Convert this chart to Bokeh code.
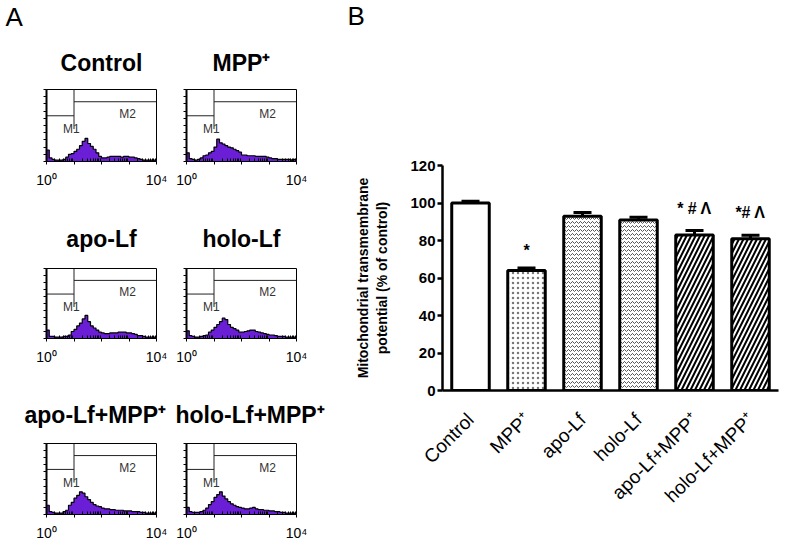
import math
from bokeh.plotting import figure
from bokeh.layouts import row, column
from bokeh.models import (Title, FixedTicker, Range1d, FactorRange, ColumnDataSource,
                          Whisker, TeeHead)
from bokeh.core.properties import value
from bokeh.embed import file_html
from bokeh.resources import INLINE

FONT = "Liberation Sans"
PURPLE = "#6a1ed6"

# ---------------- Panel A: flow cytometry histograms (log10 decades 0..4, 0.1 bins) ----------------
hist_titles = ["Control", "MPP⁺", "apo-Lf", "holo-Lf", "apo-Lf+MPP⁺", "holo-Lf+MPP⁺"]
hist_control = [0.16, 0.05, 0.03, 0.02, 0.02, 0.02, 0.03, 0.06, 0.10, 0.11,
                0.14, 0.17, 0.22, 0.28, 0.32, 0.25, 0.21, 0.17, 0.12, 0.07,
                0.05, 0.05, 0.06, 0.07, 0.07, 0.07, 0.07, 0.06, 0.07, 0.07,
                0.06, 0.06, 0.05, 0.04, 0.03, 0.02, 0.02, 0.02, 0.02, 0.02]
hist_mpp = [0.12, 0.04, 0.03, 0.02, 0.03, 0.05, 0.08, 0.09, 0.12, 0.14,
            0.20, 0.31, 0.26, 0.24, 0.22, 0.20, 0.19, 0.17, 0.15, 0.13,
            0.09, 0.09, 0.08, 0.08, 0.08, 0.07, 0.07, 0.07, 0.07, 0.06,
            0.05, 0.04, 0.04, 0.03, 0.03, 0.03, 0.03, 0.03, 0.02, 0.03]
hist_apo = [0.12, 0.03, 0.03, 0.02, 0.02, 0.02, 0.03, 0.03, 0.05, 0.10,
            0.13, 0.18, 0.22, 0.28, 0.33, 0.24, 0.18, 0.15, 0.12, 0.09,
            0.08, 0.07, 0.07, 0.08, 0.08, 0.08, 0.09, 0.09, 0.09, 0.08,
            0.08, 0.07, 0.06, 0.04, 0.04, 0.03, 0.02, 0.02, 0.02, 0.02]
hist_holo = [0.11, 0.04, 0.03, 0.02, 0.02, 0.03, 0.04, 0.05, 0.09, 0.12,
             0.16, 0.20, 0.24, 0.29, 0.27, 0.20, 0.16, 0.14, 0.12, 0.09,
             0.09, 0.10, 0.11, 0.12, 0.12, 0.10, 0.09, 0.08, 0.07, 0.06,
             0.05, 0.05, 0.04, 0.03, 0.03, 0.03, 0.02, 0.02, 0.02, 0.02]
hist_apo_mpp = [0.13, 0.04, 0.03, 0.02, 0.02, 0.02, 0.04, 0.06, 0.13, 0.17,
                0.23, 0.27, 0.32, 0.30, 0.25, 0.21, 0.17, 0.14, 0.12, 0.11,
                0.09, 0.08, 0.08, 0.07, 0.07, 0.06, 0.06, 0.06, 0.05, 0.05,
                0.05, 0.04, 0.04, 0.04, 0.03, 0.03, 0.02, 0.02, 0.02, 0.02]
hist_holo_mpp = [0.10, 0.04, 0.03, 0.03, 0.03, 0.04, 0.06, 0.09, 0.14, 0.18,
                 0.24, 0.28, 0.32, 0.26, 0.22, 0.18, 0.15, 0.13, 0.11, 0.10,
                 0.09, 0.08, 0.08, 0.09, 0.10, 0.08, 0.07, 0.07, 0.06, 0.06,
                 0.05, 0.05, 0.04, 0.04, 0.03, 0.03, 0.02, 0.02, 0.02, 0.02]
hist_bin_left = [round(0.1 * i, 1) for i in range(40)]
hist_bin_right = [round(0.1 * (i + 1), 1) for i in range(40)]
gate_m1 = [0.0, 1.0]
gate_m2 = [1.0, 4.0]
gate_m1_level = 0.635
gate_m2_level = 0.83
x_tick_labels = {0: "10⁰", 1: "", 2: "", 3: "", 4: "10⁴"}

# ---------------- Panel B: bar chart ----------------
conditions = ["Control", "MPP⁺", "apo-Lf", "holo-Lf", "apo-Lf+MPP⁺", "holo-Lf+MPP⁺"]
mmp_pct = [100, 64, 93, 91, 83, 81]
mmp_err = [1.0, 1.4, 2.0, 1.4, 2.3, 1.8]
significance = ["", "*", "", "", "* # Λ", "*# Λ"]
y_ticks = [0, 20, 40, 60, 80, 100, 120]

# styling per bar
bar_hatch = [" ", "dot", "horizontal_wave", "horizontal_wave", "right_diagonal_line", "right_diagonal_line"]
bar_hscale = [6, 5, 4, 4, 9, 9]
bar_hweight = [1, 1, 1, 1, 2, 2]
bar_hcolor = ["black", "#777777", "#555555", "#555555", "black", "black"]
sig_dy = [0, -9, 0, 0, -14, -14]


def make_hist(title, counts, left_side, top_b, frame_h, bottom_b, t_standoff,
              t_align="center", t_offset=0):
    mbl, mbr = (46, 14) if left_side else (16, 44)
    p = figure(frame_width=110, frame_height=frame_h,
               x_range=Range1d(0, 4), y_range=Range1d(0, 1),
               min_border_left=mbl, min_border_right=mbr,
               min_border_top=top_b, min_border_bottom=bottom_b,
               output_backend="svg", toolbar_location=None)
    p.grid.visible = False
    p.outline_line_color = "black"
    p.outline_line_width = 1
    # step-shaped polygon built from the bins
    px, py = [hist_bin_left[0]], [0]
    for l, r, v in zip(hist_bin_left, hist_bin_right, counts):
        px += [l, r]
        py += [v, v]
    px.append(hist_bin_right[-1])
    py.append(0)
    p.patch(px, py, fill_color=PURPLE, line_color=None)
    p.line(px[1:-1], py[1:-1], line_color="black", line_width=1.2)
    p.line(gate_m1, [gate_m1_level] * 2, line_color="#222222", line_width=1)
    p.line(gate_m2, [gate_m2_level] * 2, line_color="#222222", line_width=1)
    p.line([gate_m1[1]] * 2, [0.45, 1.0], line_color="#222222", line_width=1)
    p.text(x=[0.9], y=[0.45], text=["M1"], text_align="center", text_baseline="middle",
           text_font=value(FONT), text_font_size="12px", text_color="#333333")
    p.text(x=[2.95], y=[0.66], text=["M2"], text_align="center", text_baseline="middle",
           text_font=value(FONT), text_font_size="12px", text_color="#333333")

    minor = [d + math.log10(k) for d in range(4) for k in range(2, 10)]
    xa = p.xaxis[0]
    xa.ticker = FixedTicker(ticks=[0, 1, 2, 3, 4], minor_ticks=minor)
    xa.major_label_overrides = x_tick_labels
    xa.major_tick_out = 3
    xa.major_tick_in = 0
    xa.minor_tick_in = 3
    xa.minor_tick_out = 0
    xa.major_label_standoff = 7
    xa.major_label_text_font = FONT
    xa.major_label_text_font_size = "14px"
    xa.major_label_text_color = "black"
    xa.axis_line_color = "black"
    ya = p.yaxis[0]
    ya.ticker = FixedTicker(ticks=[i / 10 for i in range(11)])
    ya.major_tick_out = 3
    ya.major_tick_in = 0
    ya.minor_tick_line_color = None
    ya.major_label_text_font_size = "1px"
    ya.major_label_text_color = None
    ya.major_label_standoff = 0
    ya.axis_line_width = 2
    p.add_layout(Title(text=title, align=t_align, offset=t_offset, standoff=t_standoff,
                       text_font=FONT, text_font_size="23px", text_font_style="bold",
                       text_color="black"), "above")
    return p


hists = [hist_control, hist_mpp, hist_apo, hist_holo, hist_apo_mpp, hist_holo_mpp]
# (top border, frame height, bottom border, title standoff)
row_specs = [(89, 72, 28, 28), (78, 70, 28, 33), (76, 71, 28, 32)]
rows = []
figs = []
for r, (tb, fh, bb, ts) in enumerate(row_specs):
    if r == 2:
        fl = make_hist(hist_titles[2 * r], hists[2 * r], True, tb, fh, bb, ts, "left", -22)
        fr = make_hist(hist_titles[2 * r + 1], hists[2 * r + 1], False, tb, fh, bb, ts, "left", -11)
    else:
        fl = make_hist(hist_titles[2 * r], hists[2 * r], True, tb, fh, bb, ts)
        fr = make_hist(hist_titles[2 * r + 1], hists[2 * r + 1], False, tb, fh, bb, ts)
    figs += [fl, fr]
    rows.append(row(fl, fr, spacing=0))

# panel letter "A", stacked above the "Control" title
figs[0].add_layout(Title(text="A", align="left", offset=-41, standoff=0, vertical_align="top",
                         text_font=FONT, text_font_size="26px", text_font_style="normal",
                         text_color="black"), "above")
colA = column(*rows, spacing=0)

# ---------------- Panel B figure ----------------
upper = [v + e for v, e in zip(mmp_pct, mmp_err)]
src = ColumnDataSource(dict(cond=conditions, mmp=mmp_pct, upper=upper, sig=significance,
                            sig_dy=sig_dy, hatch=bar_hatch, hscale=bar_hscale,
                            hweight=bar_hweight, hcolor=bar_hcolor))

# header strip holding the panel letter "B"
hdrB = figure(width=446, height=40, min_border=0, x_axis_location=None, y_axis_location=None,
              x_range=Range1d(0, 1), y_range=Range1d(0, 1),
              output_backend="svg", toolbar_location=None)
hdrB.grid.visible = False
hdrB.outline_line_color = None
hdrB.add_layout(Title(text="B", align="left", offset=-95, standoff=0, vertical_align="top",
                      text_font=FONT, text_font_size="26px", text_font_style="normal",
                      text_color="black"), "above")

pB = figure(x_range=FactorRange(factors=conditions), y_range=Range1d(0, 120),
            frame_width=336, frame_height=225,
            min_border_left=102, min_border_right=8, min_border_top=125, min_border_bottom=150,
            output_backend="svg", toolbar_location=None)
pB.grid.visible = False
pB.outline_line_color = None
pB.vbar(x="cond", top="mmp", width=0.67, source=src, fill_color="white",
        line_color="black", line_width=3, hatch_pattern="hatch", hatch_scale="hscale",
        hatch_weight="hweight", hatch_color="hcolor")
pB.add_layout(Whisker(source=src, base="cond", upper="upper", lower="mmp", dimension="height",
                      line_width=3, line_color="black",
                      upper_head=TeeHead(size=18, line_width=3, line_color="black"),
                      lower_head=None))
pB.text(x="cond", y="upper", text="sig", source=src, text_align="center", text_baseline="bottom",
        y_offset="sig_dy", text_font=value(FONT), text_font_size="16px", text_font_style="bold")

ya = pB.yaxis[0]
ya.ticker = FixedTicker(ticks=y_ticks)
ya.axis_label = "Mitochondrial transmembrane\npotential (% of control)"
ya.axis_label_text_font = FONT
ya.axis_label_text_font_size = "14px"
ya.axis_label_text_font_style = "bold"
ya.axis_label_text_color = "black"
ya.axis_label_standoff = 17
ya.major_label_text_font = FONT
ya.major_label_text_font_size = "15px"
ya.major_label_text_font_style = "bold"
ya.major_label_text_color = "black"
ya.major_label_standoff = 2
ya.major_tick_out = 5
ya.major_tick_in = 0
ya.major_tick_line_width = 2.5
ya.minor_tick_line_color = None
ya.axis_line_width = 2.5

xa = pB.xaxis[0]
xa.major_label_orientation = math.pi / 4
xa.major_label_text_font = FONT
xa.major_label_text_font_size = "19px"
xa.major_label_text_color = "black"
xa.major_label_standoff = 20
xa.major_tick_line_color = None
xa.axis_line_width = 2.5

colB = column(hdrB, pB, spacing=0)
layout = row(colA, colB, spacing=0)
open("out.html", "w").write(file_html(layout, INLINE))
